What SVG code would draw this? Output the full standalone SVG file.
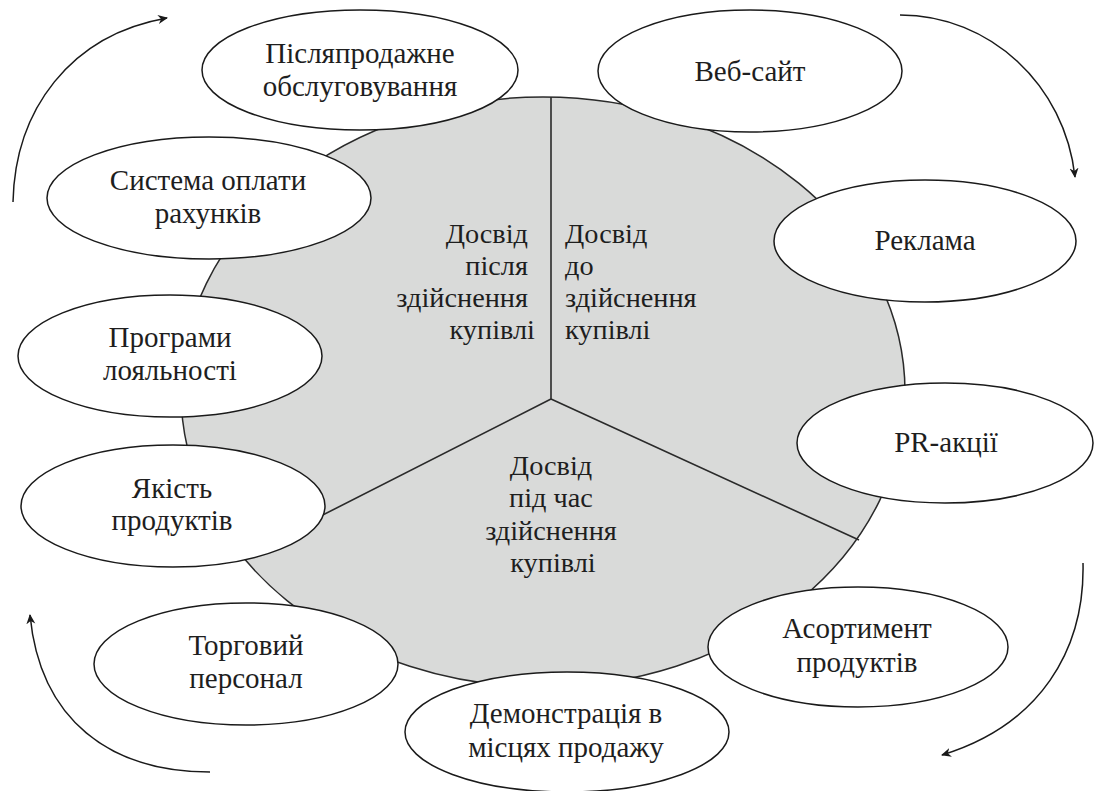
<svg xmlns="http://www.w3.org/2000/svg" width="1100" height="791" viewBox="0 0 1100 791">
<defs>
<style>
.t{font-family:"Liberation Serif","Times New Roman",serif;font-size:29px;fill:#1e1e1e}
.m{font-size:28.3px}
.c{text-anchor:middle}
.e{text-anchor:end}
.node ellipse{fill:#fff;stroke:#1a1a1a;stroke-width:1.5}
.div{stroke:#2a2a2a;stroke-width:1.6;fill:none}
.arr{fill:none;stroke:#1a1a1a;stroke-width:1.5;marker-end:url(#ah)}
</style>
<marker id="ah" viewBox="0 0 10 10" refX="9" refY="5" markerWidth="10" markerHeight="10" markerUnits="userSpaceOnUse" orient="auto">
<path d="M0,0.5 L10,5 L0,9.5 L3,5 z" fill="#1a1a1a"/>
</marker>
</defs>
<rect width="1100" height="791" fill="#fff"/>

<g id="core">
<ellipse cx="543" cy="392" rx="362" ry="295" fill="#d9dad9" stroke="#2a2a2a" stroke-width="1.5"/>
<path class="div" d="M551,97 L551,399 M551,399 L250,552 M551,399 L859,540"/>
<text class="t m e" x="528" y="243">Досвід</text>
<text class="t m e" x="528" y="275">після</text>
<text class="t m e" x="528" y="307">здійснення</text>
<text class="t m e" x="535" y="339">купівлі</text>
<text class="t m" x="565" y="243">Досвід</text>
<text class="t m" x="565" y="275">до</text>
<text class="t m" x="565" y="307">здійснення</text>
<text class="t m" x="565" y="339">купівлі</text>
<text class="t m c" x="551" y="475">Досвід</text>
<text class="t m c" x="551" y="507">під час</text>
<text class="t m c" x="551" y="540">здійснення</text>
<text class="t m c" x="553" y="572">купівлі</text>
</g>

<g id="n1" class="node"><ellipse cx="360" cy="70" rx="158" ry="60"/><text class="t c" x="360" y="63">Післяпродажне</text><text class="t c" x="360" y="96">обслуговування</text></g>
<g id="n2" class="node"><ellipse cx="750" cy="71" rx="152" ry="61"/><text class="t c" x="750" y="81">Веб-сайт</text></g>
<g id="n3" class="node"><ellipse cx="209" cy="198" rx="162" ry="61"/><text class="t c" x="208" y="190">Система оплати</text><text class="t c" x="208" y="223">рахунків</text></g>
<g id="n4" class="node"><ellipse cx="925" cy="241" rx="151" ry="61"/><text class="t c" x="925" y="250">Реклама</text></g>
<g id="n5" class="node"><ellipse cx="170" cy="356" rx="152" ry="61"/><text class="t c" x="170" y="347">Програми</text><text class="t c" x="170" y="380">лояльності</text></g>
<g id="n6" class="node"><ellipse cx="945" cy="443" rx="148" ry="60"/><text class="t c" x="946" y="452">PR-акції</text></g>
<g id="n7" class="node"><ellipse cx="173" cy="506" rx="152" ry="61"/><text class="t c" x="172" y="498">Якість</text><text class="t c" x="172" y="530">продуктів</text></g>
<g id="n8" class="node"><ellipse cx="858" cy="647" rx="150" ry="60"/><text class="t c" x="857" y="638">Асортимент</text><text class="t c" x="857" y="672">продуктів</text></g>
<g id="n9" class="node"><ellipse cx="246" cy="664" rx="152" ry="61"/><text class="t c" x="246" y="655">Торговий</text><text class="t c" x="246" y="688">персонал</text></g>
<g id="n10" class="node"><ellipse cx="567" cy="732" rx="162" ry="60"/><text class="t c" x="566" y="723">Демонстрація в</text><text class="t c" x="566" y="757">місцях продажу</text></g>

<g id="connectors">
<path class="arr" d="M13,202 C15,110 70,35 167,18"/>
<path class="arr" d="M900,15 C990,15 1065,85 1075,177"/>
<path class="arr" d="M1083,563 C1085,650 1040,725 942,755"/>
<path class="arr" d="M210,772 C110,772 40,720 30,615"/>
</g>
</svg>
